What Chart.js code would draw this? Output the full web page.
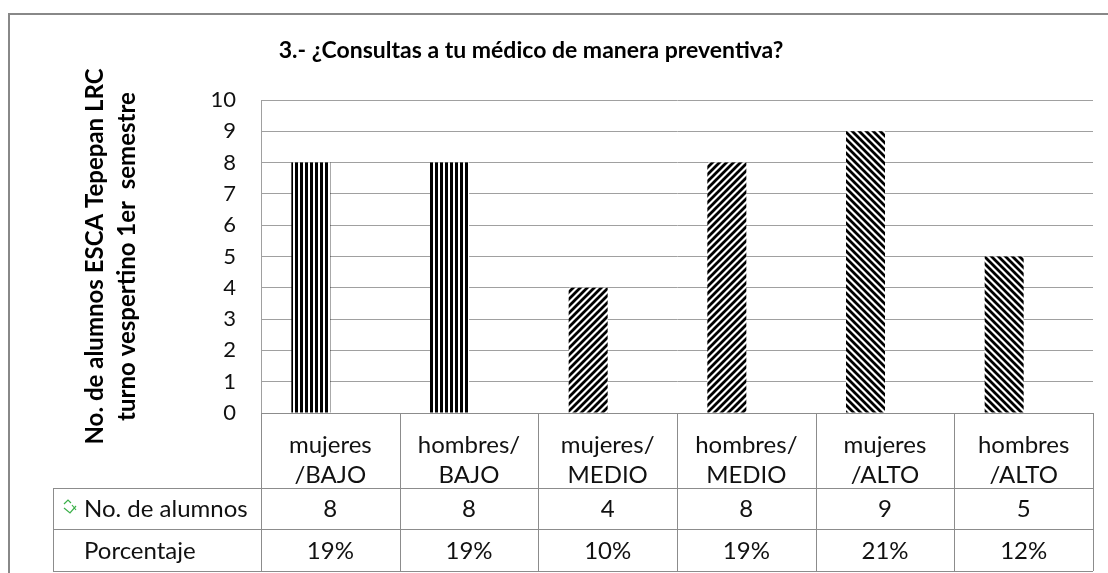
<!DOCTYPE html>
<html>
<head>
<meta charset="utf-8">
<script src="https://cdn.jsdelivr.net/npm/chart.js@4"></script>
<style>
  body { margin: 0; background: #fff; }
  canvas { display: block; }
</style>
</head>
<body>
<canvas id="bars" width="1108" height="573"></canvas>
<script>
const titulo = '3.- ¿Consultas a tu médico de manera preventiva?'
const tituloEje = ['No. de alumnos ESCA Tepepan LRC', 'turno vespertino 1er  semestre']
const categorias = [
  ['mujeres', '/BAJO'],
  ['hombres/', 'BAJO'],
  ['mujeres/', 'MEDIO'],
  ['hombres/', 'MEDIO'],
  ['mujeres', '/ALTO'],
  ['hombres', '/ALTO'],
]
const alumnos = [8, 8, 4, 8, 9, 5]
const porcentaje = [0.19, 0.19, 0.10, 0.19, 0.21, 0.12]
const filas = ['No. de alumnos', 'Porcentaje']

const FONT = 'Lato, "Open Sans", sans-serif'
const GRID = '#a0a0a0'
const LINE = '#8c8c8c'

// hatch patterns like the excel fills
function hatch(kind) {
  const c = document.createElement('canvas')
  const g = c.getContext('2d')
  if (kind === 'vert') {
    c.width = 5; c.height = 5
    g.fillStyle = '#fff'; g.fillRect(0, 0, 5, 5)
    g.fillStyle = '#000'; g.fillRect(0, 0, 3, 5)
  } else {
    const s = 7
    c.width = s; c.height = s
    g.fillStyle = '#fff'; g.fillRect(0, 0, s, s)
    g.strokeStyle = '#000'; g.lineWidth = 2.8
    g.beginPath()
    if (kind === 'up') {
      g.moveTo(-1, s + 1); g.lineTo(s + 1, -1)
      g.moveTo(-2, 2); g.lineTo(2, -2)
      g.moveTo(s - 2, s + 2); g.lineTo(s + 2, s - 2)
    } else {
      g.moveTo(-1, -1); g.lineTo(s + 1, s + 1)
      g.moveTo(-2, s - 2); g.lineTo(2, s + 2)
      g.moveTo(s - 2, -2); g.lineTo(s + 2, 2)
    }
    g.stroke()
  }
  return document.getElementById('bars').getContext('2d').createPattern(c, 'repeat')
}
const pVert = hatch('vert'), pUp = hatch('up'), pDown = hatch('down')

const tablePlugin = {
  id: 'tabla',
  afterDraw(chart) {
    const { ctx, chartArea } = chart
    const x = chart.scales.x
    const w = (chartArea.right - chartArea.left) / categorias.length
    const top = chartArea.bottom
    const r1 = 488, r2 = 529, r3 = 571, labelLeft = 53
    ctx.save()

    // outer frame
    ctx.strokeStyle = '#888'
    ctx.lineWidth = 2
    ctx.beginPath()
    ctx.moveTo(9, 573); ctx.lineTo(9, 14); ctx.lineTo(1108, 14)
    ctx.stroke()

    // title
    ctx.fillStyle = '#000'
    ctx.font = 'bold 23px ' + FONT
    ctx.textAlign = 'center'
    ctx.textBaseline = 'middle'
    ctx.fillText(titulo, 531, 51)

    // table grid
    ctx.strokeStyle = LINE
    ctx.lineWidth = 1
    ctx.beginPath()
    ctx.moveTo(chartArea.left, top + 0.5); ctx.lineTo(chartArea.right, top + 0.5)
    for (const y of [r1, r2, r3]) {
      ctx.moveTo(labelLeft, y + 0.5); ctx.lineTo(chartArea.right, y + 0.5)
    }
    ctx.moveTo(labelLeft + 0.5, r1); ctx.lineTo(labelLeft + 0.5, r3)
    for (let i = 0; i <= categorias.length; i++) {
      const px = Math.round(chartArea.left + i * w) + 0.5
      ctx.moveTo(px, top); ctx.lineTo(px, r3)
    }
    ctx.stroke()

    // row labels
    ctx.fillStyle = '#111'
    ctx.font = '24px ' + FONT
    ctx.textAlign = 'left'
    ctx.fillText(filas[0], 84, (r1 + r2) / 2 + 1)
    ctx.fillText(filas[1], 84, (r2 + r3) / 2 + 1)

    // legend key of the first series
    ctx.strokeStyle = '#3cb04a'
    ctx.lineWidth = 1.2
    ctx.beginPath()
    ctx.moveTo(64, 504); ctx.lineTo(68, 500); ctx.lineTo(71, 503)
    ctx.moveTo(64, 508); ctx.lineTo(70, 513); ctx.lineTo(76, 506)
    ctx.moveTo(72, 505); ctx.lineTo(76, 510)
    ctx.stroke()

    // values
    ctx.fillStyle = '#111'
    ctx.textAlign = 'center'
    for (let i = 0; i < categorias.length; i++) {
      const cx = x.getPixelForValue(i)
      ctx.fillText(String(alumnos[i]), cx, (r1 + r2) / 2 + 1)
      ctx.fillText(Math.round(porcentaje[i] * 100) + '%', cx, (r2 + r3) / 2 + 1)
    }
    ctx.restore()
  },
}

const barConfig = {
  type: 'bar',
  data: {
    labels: categorias,
    datasets: [
      {
        label: filas[0],
        backgroundColor: [pVert, pVert, pUp, pUp, pDown, pDown],
        borderWidth: 0,
        data: alumnos,
      },
      {
        label: filas[1],
        backgroundColor: 'rgba(0,0,0,0)',
        borderWidth: 0,
        data: porcentaje,
      },
    ],
  },
  options: {
    responsive: false,
    animation: false,
    events: [],
    layout: { padding: { left: 8, top: 100, right: 15, bottom: 85 } },
    datasets: { bar: { categoryPercentage: 0.5625, barPercentage: 1 } },
    plugins: {
      legend: { display: false },
      tooltip: { enabled: false },
    },
    scales: {
      x: {
        grid: { display: false },
        border: { display: false },
        ticks: {
          color: '#111',
          font: { family: FONT, size: 24, lineHeight: 1.25 },
          padding: 9,
          maxRotation: 0,
          autoSkip: false,
        },
        afterFit(scale) { scale.height = 75 },
      },
      y: {
        min: 0,
        max: 10,
        ticks: {
          stepSize: 1,
          color: '#111',
          font: { family: FONT, size: 22 },
          padding: 25,
        },
        grid: { color: GRID, drawTicks: false },
        border: { display: true, color: GRID },
        title: {
          display: true,
          text: tituloEje,
          color: '#000',
          font: { family: FONT, size: 24, weight: 'bold', lineHeight: 1.3 },
          padding: { top: 72 },
        },
        afterFit(scale) { scale.width = 253 },
      },
    },
  },
  plugins: [tablePlugin],
}

const barsCtx = document.getElementById('bars')
window.myBar = new Chart(barsCtx, barConfig)
</script>
</body>
</html>
